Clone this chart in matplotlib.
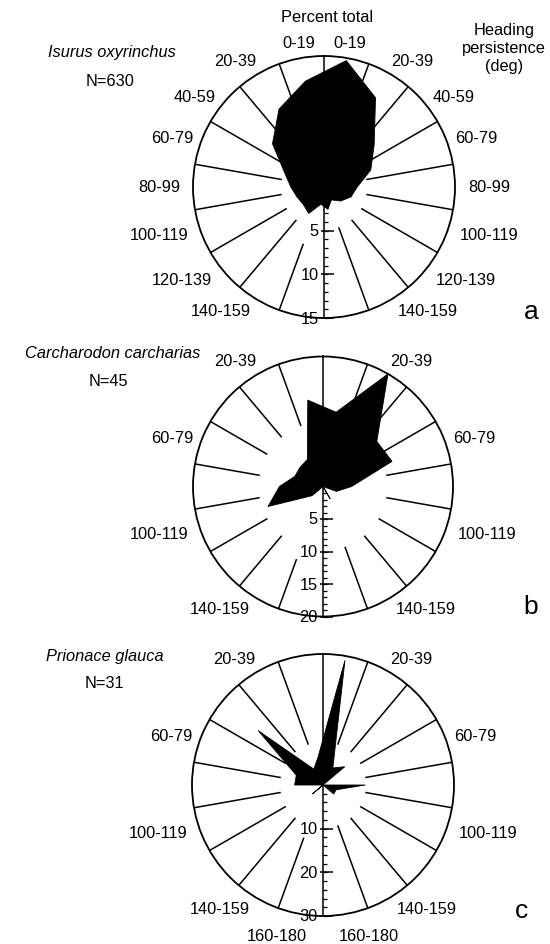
import numpy as np
import matplotlib.pyplot as plt

plt.rcParams['font.family'] = ['Liberation Sans', 'DejaVu Sans']

# heading persistence bins (deg), same on both halves of each rose
bins = ['0-19', '20-39', '40-59', '60-79', '80-99', '100-119', '120-139', '140-159', '160-180']
bin_mid = np.arange(10, 180, 20)

# percent total per bin, right half and left half
mako_right = [14.7, 11.8, 7.5, 5.7, 3.8, 3.3, 2.5, 1.7, 2.6]
mako_left = [12.3, 10.3, 7.7, 4.8, 3.8, 3.3, 3.1, 3.5, 2.0]

white_right = [11.6, 20.0, 10.8, 11.3, 4.4, 2.2, 0.0, 2.2, 0.0]
white_left = [13.5, 4.8, 4.6, 4.6, 6.7, 9.0, 2.2, 0.0, 0.0]

blue_right = [29.0, 4.5, 6.5, 0.0, 9.7, 3.2, 3.2, 0.0, 0.0]
blue_left = [6.5, 4.2, 19.4, 6.5, 6.5, 0.0, 3.2, 0.0, 0.0]

species = ['Isurus oxyrinchus', 'Carcharodon carcharias', 'Prionace glauca']
counts = ['N=630', 'N=45', 'N=31']
letters = ['a', 'b', 'c']

W, H = 550, 945
fig = plt.figure(figsize=(W / 100, H / 100), dpi=100)

# where the bin labels sit around the circle (deg from top, fraction of radius)
lab_ang = [10, 35, 55, 72, 90, 106, 123, 140, 163]
lab_fac = [1.12, 1.18, 1.21, 1.22, 1.26, 1.31, 1.29, 1.23, 1.2]

FS = 11.8


def draw_rose(cx, cy, R, right, left, rmax, major, minor_step, r_in, r_in_low, shown):
    ax = fig.add_axes([(cx - R) / W, 1 - (cy + R) / H, 2 * R / W, 2 * R / H],
                      projection='polar')
    ax.set_theta_zero_location('N')
    ax.set_theta_direction(-1)
    ax.set_ylim(0, rmax)
    ax.grid(False)
    ax.set_xticks([])
    ax.set_yticks([])
    ax.spines['polar'].set_linewidth(1.3)
    ax.patch.set_alpha(0)

    # spokes between bins
    for a in range(20, 180, 20):
        for s in (1, -1):
            start = r_in_low if (s == -1 and a == 160) else r_in
            ax.plot([np.deg2rad(s * a)] * 2, [start, rmax], color='k', lw=1.1)
    # vertical line through the centre
    ax.plot([0, 0], [0, rmax], color='k', lw=1.1)
    ax.plot([np.pi, np.pi], [0, rmax], color='k', lw=1.1)

    # rose polygon
    theta = np.deg2rad(np.concatenate([bin_mid, 360 - bin_mid[::-1]]))
    r = np.concatenate([right, left[::-1]])
    ax.fill(theta, r, color='k', lw=0.6, zorder=3)

    # radial scale on the lower vertical line
    minor = np.arange(minor_step, rmax + 1e-9, minor_step)
    ax.plot(np.full(len(minor), np.pi), minor, ls='none', marker=1, ms=3,
            mew=0.9, color='k', clip_on=False)
    ax.plot(np.full(len(major), np.pi), major, ls='none', marker=1, ms=7,
            mew=1.1, color='k', clip_on=False)
    ax.plot(np.full(len(major), np.pi), major, ls='none', marker=0, ms=2,
            mew=1.1, color='k', clip_on=False)
    for v in major:
        ax.annotate(str(v), xy=(np.pi, v), xytext=(-4, 0), textcoords='offset points',
                    ha='right', va='center', fontsize=FS, zorder=4)

    # bin labels on both sides
    for i in shown:
        for s in (1, -1):
            ax.text(np.deg2rad(s * lab_ang[i]), lab_fac[i] * rmax, bins[i],
                    ha='center', va='center', fontsize=FS)
    return ax


draw_rose(324, 188, 131, mako_right, mako_left, 15, [5, 10, 15], 1, 5, 7,
          range(8))
draw_rose(323, 487.5, 130, white_right, white_left, 20, [5, 10, 15, 20], 1, 10, 12,
          [1, 3, 5, 7])
draw_rose(323, 786, 131, blue_right, blue_left, 30, [10, 20, 30], 2, 10, 13,
          [1, 3, 5, 7, 8])

# species names and sample sizes
name_pos = [(112, 53), (113, 354), (105, 657)]
n_pos = [(110, 82), (108, 381), (104, 684)]
letter_pos = [(531, 312), (531, 607), (521, 911)]
for i in range(3):
    fig.text(name_pos[i][0] / W, 1 - name_pos[i][1] / H, species[i],
             style='italic', ha='center', va='center', fontsize=FS)
    fig.text(n_pos[i][0] / W, 1 - n_pos[i][1] / H, counts[i],
             ha='center', va='center', fontsize=FS)
    fig.text(letter_pos[i][0] / W, 1 - letter_pos[i][1] / H, letters[i],
             ha='center', va='center', fontsize=19)

fig.text(327 / W, 1 - 17 / H, 'Percent total', ha='center', va='center', fontsize=FS)
fig.text(504 / W, 1 - 49 / H, 'Heading\npersistence\n(deg)', ha='center', va='center',
         fontsize=FS, linespacing=1.25)

fig.savefig('out.png', dpi=100)
